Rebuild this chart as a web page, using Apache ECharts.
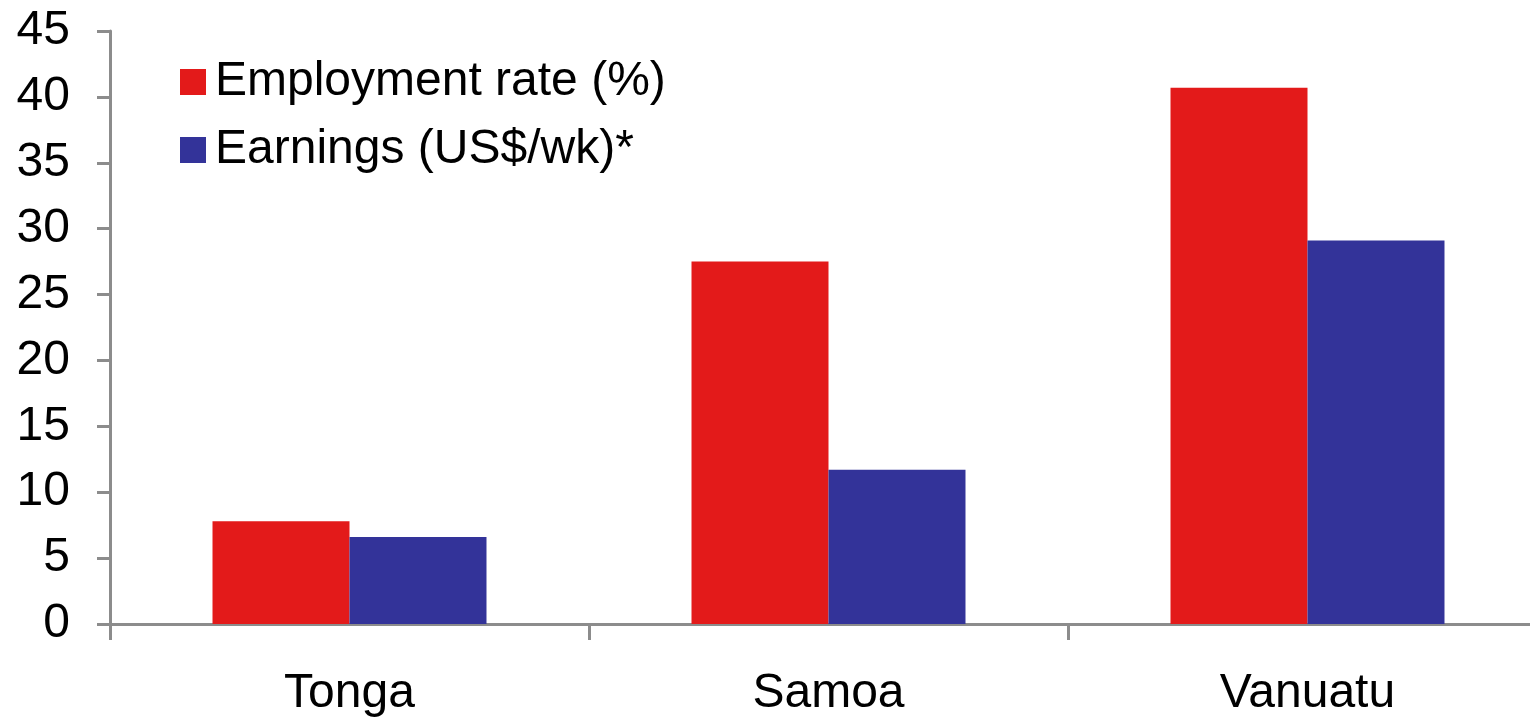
<!DOCTYPE html>
<html>
<head>
<meta charset="utf-8">
<script src="https://cdn.jsdelivr.net/npm/echarts@6/dist/echarts.min.js"></script>
<style>
  html, body { margin: 0; padding: 0; background: #fff; }
  #chart { width: 1530px; height: 719px; }
</style>
</head>
<body>
<div id="chart"></div>
<script>
// Country groups along the category axis
const countries = ['Tonga', 'Samoa', 'Vanuatu'];

// Series values per country
const employmentRate = [7.8, 27.5, 40.7];
const earnings = [6.6, 11.7, 29.1];

const seriesNames = ['Employment rate (%)', 'Earnings (US$/wk)*'];

const FONT = '"Liberation Sans", Arial, sans-serif';
const AXIS_GREY = '#8c8c8c';

const chart = echarts.init(document.getElementById('chart'), null, { renderer: 'canvas' });

chart.setOption({
  animation: false,
  backgroundColor: '#ffffff',
  grid: { left: 110, top: 31, width: 1437, bottom: 95, containLabel: false, outerBoundsMode: 'none' },
  legend: {
    orient: 'vertical',
    left: 175,
    top: 52,
    itemWidth: 26,
    itemHeight: 26,
    itemGap: 18,
    icon: 'rect',
    textStyle: { fontFamily: FONT, fontSize: 48, color: '#000', lineHeight: 50, padding: [0, 0, 0, 4] },
    data: seriesNames
  },
  xAxis: {
    type: 'category',
    data: countries,
    axisLine: { lineStyle: { color: AXIS_GREY, width: 3 } },
    axisTick: { show: true, length: 16, lineStyle: { color: AXIS_GREY, width: 3 } },
    axisLabel: { fontFamily: FONT, fontSize: 48, color: '#000', margin: 46 }
  },
  yAxis: {
    type: 'value',
    min: 0,
    max: 45,
    interval: 5,
    splitLine: { show: false },
    axisLine: { show: true, lineStyle: { color: AXIS_GREY, width: 3 } },
    axisTick: { show: true, inside: false, length: 13, lineStyle: { color: AXIS_GREY, width: 3 } },
    axisLabel: { fontFamily: FONT, fontSize: 48, color: '#000', margin: 40 }
  },
  series: [
    {
      name: seriesNames[0],
      type: 'bar',
      data: employmentRate,
      itemStyle: { color: '#e31a1a' },
      barGap: '0%',
      barCategoryGap: '42.8%'
    },
    {
      name: seriesNames[1],
      type: 'bar',
      data: earnings,
      itemStyle: { color: '#333399' },
      barGap: '0%',
      barCategoryGap: '42.8%'
    }
  ]
});
</script>
</body>
</html>
